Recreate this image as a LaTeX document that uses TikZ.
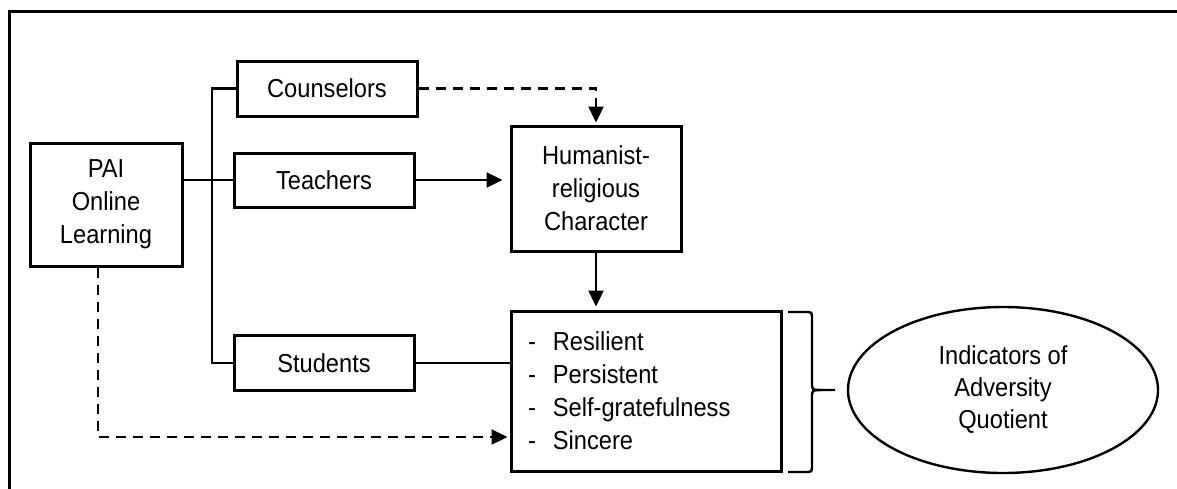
\documentclass[tikz,border=0pt]{standalone}
\usepackage{fontspec}
\setmainfont{Liberation Sans}[FakeStretch=0.91]
\usetikzlibrary{arrows.meta,shapes.geometric}
\begin{document}
\begin{tikzpicture}[x=1pt,y=-1pt,
  txt/.style={font=\fontsize{26}{33}\selectfont},
  box/.style={draw,line width=3pt,inner sep=0pt,align=center,txt},
  conn/.style={line width=2.4pt},
  tip/.style={-{Triangle[length=16pt,width=15pt]}},
  arr/.style={conn,tip},
  dsh/.style={conn,dash pattern=on 10pt off 7pt}]
\useasboundingbox (0,0) rectangle (1177,488);
\fill[white] (0,0) rectangle (1177,488);
% frame
\draw[line width=3pt] (9,492) -- (9,11) -- (1182,11);
% nodes
\node[box,minimum width=152,minimum height=123] (pai) at (106,204.5) {PAI\\Online\\Learning};
\node[box,minimum width=180,minimum height=55] (couns) at (327,88.5) {Counselors};
\node[box,minimum width=180,minimum height=54] (teach) at (324,180) {Teachers};
\node[box,minimum width=180,minimum height=55] (stud) at (324,363) {Students};
\node[box,minimum width=170,minimum height=125] (hum) at (596,188.5) {Humanist-\\religious\\Character};
\node[box,text width=236,inner xsep=17pt,minimum height=160,align=left] (res) at (646,391)
  {-\hspace{17pt}Resilient\\-\hspace{17pt}Persistent\\-\hspace{17pt}Self-gratefulness\\-\hspace{17pt}Sincere};
\node[draw,ellipse,line width=2.4pt,minimum width=310,minimum height=166,inner sep=0pt,align=center,
  font=\fontsize{26}{32}\selectfont] (aq) at (1003,390) {Indicators of\\Adversity\\Quotient};
% helper coordinates
\coordinate (bx) at (212,0);
\coordinate (pd) at (98,437);
% connectors
\draw[conn] (couns.west) -- (couns.west -| bx) -- (stud.west -| bx) -- (stud.west);
\draw[conn] (pai.east |- teach.west) -- (teach.west);
\draw[arr,shorten >=7pt] (teach.east) -- (teach.east -| hum.west);
\draw[dsh,tip,shorten >=2pt] (couns.east) -| (hum.north);
\draw[arr,shorten >=3pt] (hum.south) -- (hum.south |- res.north);
\draw[conn] (stud.east) -- (stud.east -| res.west);
\draw[dsh,tip,shorten >=2pt] (pai.south -| pd) -- (pd) -- (res.west |- pd);
% brace
\draw[line width=2.4pt] (788,312) -- (805,312) .. controls (812,312) .. (812,319) -- (812,383)
  .. controls (812,390) .. (822,390) -- (835,390);
\draw[line width=2.4pt] (788,472) -- (805,472) .. controls (812,472) .. (812,465) -- (812,397)
  .. controls (812,390) .. (822,390);
\end{tikzpicture}
\end{document}
